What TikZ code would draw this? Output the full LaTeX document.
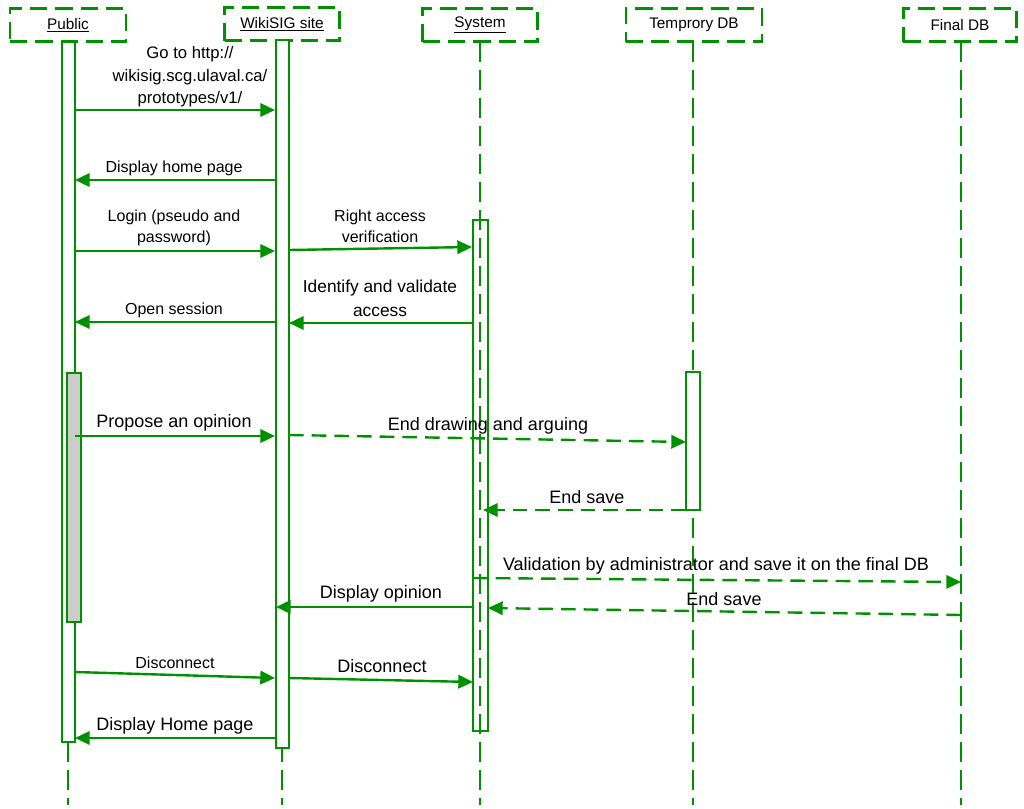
\documentclass[tikz,border=0pt]{standalone}
\usepackage{fontspec}
\setmainfont{Liberation Sans}
\usetikzlibrary{arrows.meta}
\definecolor{g}{RGB}{0,145,0}
\begin{document}
\begin{tikzpicture}[x=0.75pt,y=-0.75pt,
 hd/.style={draw=g,line width=2.2pt,dash pattern=on 13pt off 6pt,minimum height=25pt,inner sep=0pt,font=\fontsize{11.5}{12}\selectfont},
 life/.style={draw=g,line width=2.2pt,dash pattern=on 15pt off 6pt},
 bar/.style={draw=g,line width=1.2pt,fill=white},
 msg/.style={draw=g,line width=1.8pt,-{Triangle[length=11pt,width=10pt]}},
 dmsg/.style={msg,dash pattern=on 11pt off 6pt},
 lb/.style={font=\fontsize{12}{14}\selectfont,align=center,inner sep=0pt},
 lbb/.style={font=\fontsize{13.5}{15}\selectfont,align=center,inner sep=0pt}]
\useasboundingbox (0,0) rectangle (1024,809);
% lifelines
\foreach \x/\n in {68/l1,282/l2,480/l3,693/l4,961/l5} \draw[life] (\x,42) -- (\x,805);
% headers
\node[hd,minimum width=87pt] (h1) at (68,25) {\underline{Public}};
\node[hd,minimum width=86pt] (h2) at (282,24) {\underline{WikiSIG site}};
\node[hd,minimum width=86pt] (h3) at (480,25) {\underline{System}};
\node[hd,minimum width=102pt] (h4) at (694,25) {Temprory DB};
\node[hd,minimum width=85pt] (h5) at (960,25) {Final DB};
% bars
\draw[bar] (62,42) rectangle (75,742);
\draw[bar,fill=black!20] (67,373) rectangle (81,622);
\draw[bar] (276,40) rectangle (289,748);
\draw[bar,fill=none] (473,220) rectangle (488,731);
\draw[bar] (686,372) rectangle (700,510);
% coordinates
\foreach \n/\x/\y in {a1/75/110,a2/275/110,b1/276/180,b2/75/180,c1/75/251,c2/275/251,
 d1/289/250,d2/472/247,e1/473/323,e2/289/323,f1/276/322,f2/75/322,g1/75/436,g2/275/436,
 h1a/289/435,h2a/686/442,i1/686/510,i2/483/510,j1/473/578,j2/961/582,k1/473/607,k2/276/607,
 m1/961/615,m2/488/608,n1/75/672,n2/275/678,o1/289/678,o2/473/682,p1/276/738,p2/75/738}
 \coordinate (\n) at (\x,\y);
\draw[msg] (a1) -- (a2); \draw[msg] (b1) -- (b2); \draw[msg] (c1) -- (c2);
\draw[msg] (d1) -- (d2); \draw[msg] (e1) -- (e2); \draw[msg] (f1) -- (f2);
\draw[msg] (g1) -- (g2); \draw[dmsg] (h1a) -- (h2a); \draw[dmsg] (i1) -- (i2);
\draw[dmsg] (j1) -- (j2); \draw[msg] (k1) -- (k2); \draw[dmsg] (m1) -- (m2);
\draw[msg] (n1) -- (n2); \draw[msg] (o1) -- (o2); \draw[msg] (p1) -- (p2);
% labels
\node[lb,font=\fontsize{12.5}{17}\selectfont] (t1) at (190,77) {Go to http://\\wikisig.scg.ulaval.ca/\\prototypes/v1/};
\node[lb] (t2) at (174,168) {Display home page};
\node[lb,font=\fontsize{12}{16}\selectfont] (t3) at (174,228) {Login (pseudo and\\password)};
\node[lb,font=\fontsize{12}{16}\selectfont] (t4) at (380,226) {Right access\\verification};
\node[lbb,font=\fontsize{13}{18}\selectfont] (t5) at (380,298) {Identify and validate\\access};
\node[lb] (t6) at (174,310) {Open session};
\node[lbb] (t7) at (174,423) {Propose an opinion};
\node[lbb] (t8) at (488,426) {End drawing and arguing};
\node[lbb] (t9) at (587,497) {End save};
\node[lbb] (t10) at (716,566) {Validation by administrator and save it on the final DB};
\node[lbb] (t11) at (381,594) {Display opinion};
\node[lbb] (t12) at (724,599) {End save};
\node[lb] (t13) at (175,663) {Disconnect};
\node[lbb] (t14) at (382,666) {Disconnect};
\node[lbb] (t15) at (175,726) {Display Home page};
\end{tikzpicture}
\end{document}
